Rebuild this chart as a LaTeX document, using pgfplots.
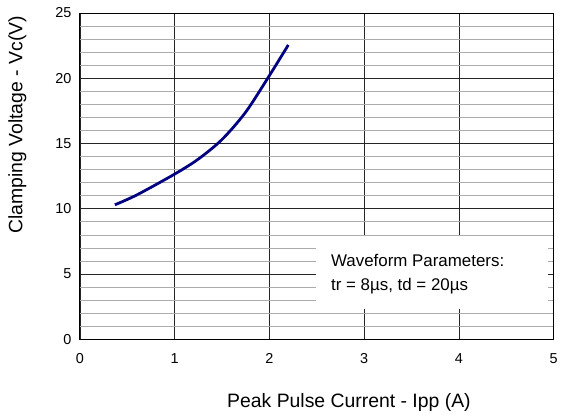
\documentclass[border=0pt]{standalone}
\usepackage{pgfplots}
\pgfplotsset{compat=1.18}
\usepackage{fontspec}
\setmainfont{Liberation Sans}
\definecolor{curveblue}{RGB}{0,0,128}
\begin{document}
\begin{tikzpicture}
\begin{axis}[
  scale only axis,
  width=475bp, height=327bp,
  xmin=0, xmax=5, ymin=0, ymax=25,
  xtick={0,1,2,3,4,5}, ytick={0,5,10,15,20,25},
  minor ytick={1,2,3,4,6,7,8,9,11,12,13,14,16,17,18,19,21,22,23,24},
  major tick length=0pt, minor tick length=0pt,
  grid=both,
  major grid style={black!85, line width=0.6pt},
  minor grid style={gray!65, line width=0.6pt},
  axis line style={black, line width=0.8pt},
  /pgf/number format/assume math mode=true,
  ticklabel style={font=\fontsize{14.5}{16}\selectfont},
  xticklabel style={yshift=-11bp},
  yticklabel style={xshift=-5bp},
  xlabel={Peak Pulse Current - Ipp (A)},
  ylabel={Clamping Voltage - Vc(V)},
  label style={font=\fontsize{19.5}{21}\selectfont},
  xlabel style={at={(axis description cs:0.568,-0.208)}, anchor=base},
  ylabel style={at={(axis description cs:-0.1316,0.657)}, anchor=center},
  clip=false,
]
\addplot[curveblue, line width=2.8pt, smooth] coordinates {
(0.37,10.3) (0.6,11.05) (1.0,12.65) (1.25,13.8) (1.5,15.3) (1.75,17.4) (2.0,20.2) (2.2,22.55)};
\fill[white] (axis cs:2.49,2.3) rectangle (axis cs:4.94,7.9);
\node[anchor=base west, inner sep=0pt, font=\fontsize{17}{20}\selectfont] at (axis cs:2.65,5.6) {Waveform Parameters:};
\node[anchor=base west, inner sep=0pt, font=\fontsize{17}{20}\selectfont] at (axis cs:2.65,3.75) {tr = 8µs, td = 20µs};
\end{axis}
\path ([shift={(-80bp,-76bp)}]current axis.south west) rectangle ([shift={(6bp,13bp)}]current axis.north east);
\end{tikzpicture}
\end{document}
